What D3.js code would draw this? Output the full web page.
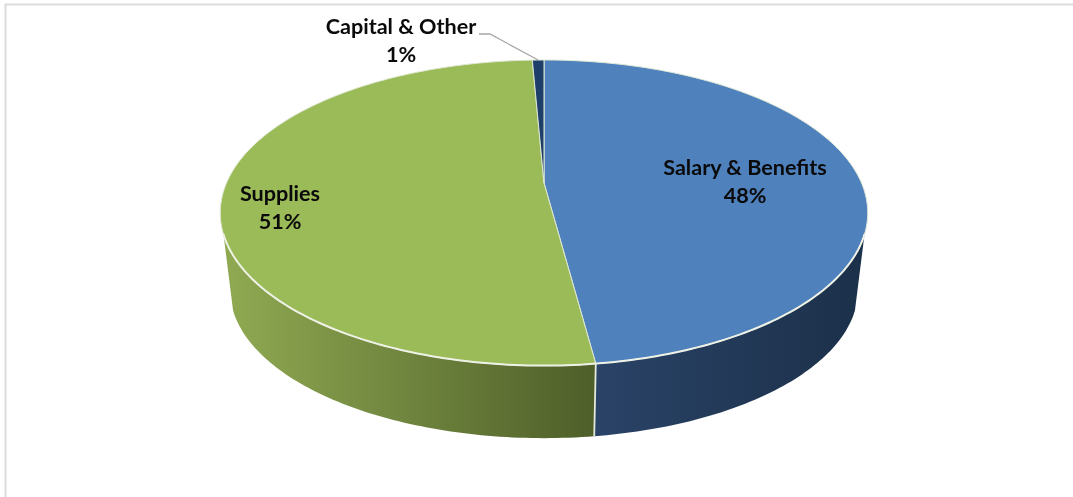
<!DOCTYPE html>
<html><head><meta charset="utf-8">
<script src="https://cdnjs.cloudflare.com/ajax/libs/d3/7.8.5/d3.min.js"></script>
<style>html,body{margin:0;padding:0;background:#fff;overflow:hidden}svg{display:block;filter:blur(.45px)}</style>
</head><body><svg id="c" width="1073" height="497"></svg>
<script>
// Data
const categories = ["Salary & Benefits", "Supplies", "Capital & Other"];
const shares = [47.9, 51.4, 0.7];
const topColors = ["#4f81bd", "#9bbb59", "#1f3f6b"];
const wallStops = [["#2a4367", "#1b3049"], ["#90aa52", "#4e5e29"], ["#1b3049", "#1b3049"]];

// Layout
const W = 1073, H = 497;
const svg = d3.select("#c");
const cx = 544, apexY = 183, rx = 317.5, ry = 147, persp = 0.195;
const depth = 78, baseScale = 0.97, silhouette = 109 * Math.PI / 180;

// Perspective projection of the pie's unit circle (angle clockwise from top)
const project = (a, r = 1, dy = 0, s = 1) => {
  const u = r * Math.sin(a), v = -r * Math.cos(a), w = 1 - persp * v;
  return [cx + s * rx * u / w, apexY + dy + s * ry * v / w];
};
const arcPts = (a0, a1, dy = 0, s = 1) => {
  const n = Math.max(2, Math.ceil(Math.abs(a1 - a0) * 60));
  return d3.range(n + 1).map(i => project(a0 + (a1 - a0) * i / n, 1, dy, s));
};
const line = d3.line();

const pie = d3.pie().sort(null).value(d => d).startAngle(0).endAngle(2 * Math.PI);
const arcs = pie(shares);

const defs = svg.append("defs");

// Chart frame (top and left rules only)
svg.append("path").attr("d", "M5.5,497V4.5H1073").attr("fill", "none").attr("stroke", "#dcdcdc").attr("stroke-width", 2);

// Side walls: only the part of each slice facing the viewer
const wallA0 = silhouette, wallA1 = 2 * Math.PI - silhouette;
arcs.forEach((d, i) => {
  const a0 = Math.max(d.startAngle, wallA0), a1 = Math.min(d.endAngle, wallA1);
  if (a1 <= a0) return;
  const top = arcPts(a0, a1), base = arcPts(a1, a0, depth, baseScale);
  const xs = d3.extent(top.concat(base), p => p[0]);
  const id = "wall" + i;
  const g = defs.append("linearGradient").attr("id", id).attr("gradientUnits", "userSpaceOnUse")
    .attr("x1", xs[0]).attr("x2", xs[1]).attr("y1", 0).attr("y2", 0);
  g.append("stop").attr("offset", 0).attr("stop-color", wallStops[i][0]);
  g.append("stop").attr("offset", 1).attr("stop-color", wallStops[i][1]);
  svg.append("path").attr("d", line(top.concat(base)) + "Z").attr("fill", `url(#${id})`);
});

// Seam between the two front walls
const seam = arcs[0].endAngle;
svg.append("path").attr("d", line([project(seam), project(seam, 1, depth, baseScale)]))
  .attr("stroke", "#e4eadb").attr("stroke-width", 1.8).attr("fill", "none");

// Top face
arcs.forEach((d, i) => {
  const pts = [[cx, apexY]].concat(arcPts(d.startAngle, d.endAngle));
  svg.append("path").attr("d", line(pts) + "Z")
    .attr("fill", topColors[i]).attr("stroke", "#dfe8d4").attr("stroke-width", 1).attr("stroke-linejoin", "round");
});

// Brighter rim along the front edge of the top face
svg.append("path").attr("d", line(arcPts(wallA0, wallA1)))
  .attr("fill", "none").attr("stroke", "#eef2e6").attr("stroke-width", 2);

// Leader line for the smallest slice
const mid = (arcs[2].startAngle + arcs[2].endAngle) / 2;
svg.append("path").attr("d", line([[479, 34], [490, 34], project(mid)]))
  .attr("fill", "none").attr("stroke", "#a6a6a6").attr("stroke-width", 1.3);

// Labels
const labelPos = [[745, 168], [280, 194], [401, 27]];
categories.forEach((c, i) => {
  const t = svg.append("text").attr("text-anchor", "middle")
    .attr("font-family", "Lato, 'Open Sans', sans-serif").attr("font-weight", 700)
    .attr("font-size", 21.6).attr("fill", "#0a0a0a");
  t.append("tspan").attr("x", labelPos[i][0]).attr("y", labelPos[i][1] + 7).text(c);
  t.append("tspan").attr("x", labelPos[i][0]).attr("y", labelPos[i][1] + 35).text(Math.round(shares[i]) + "%");
});
</script></body></html>
